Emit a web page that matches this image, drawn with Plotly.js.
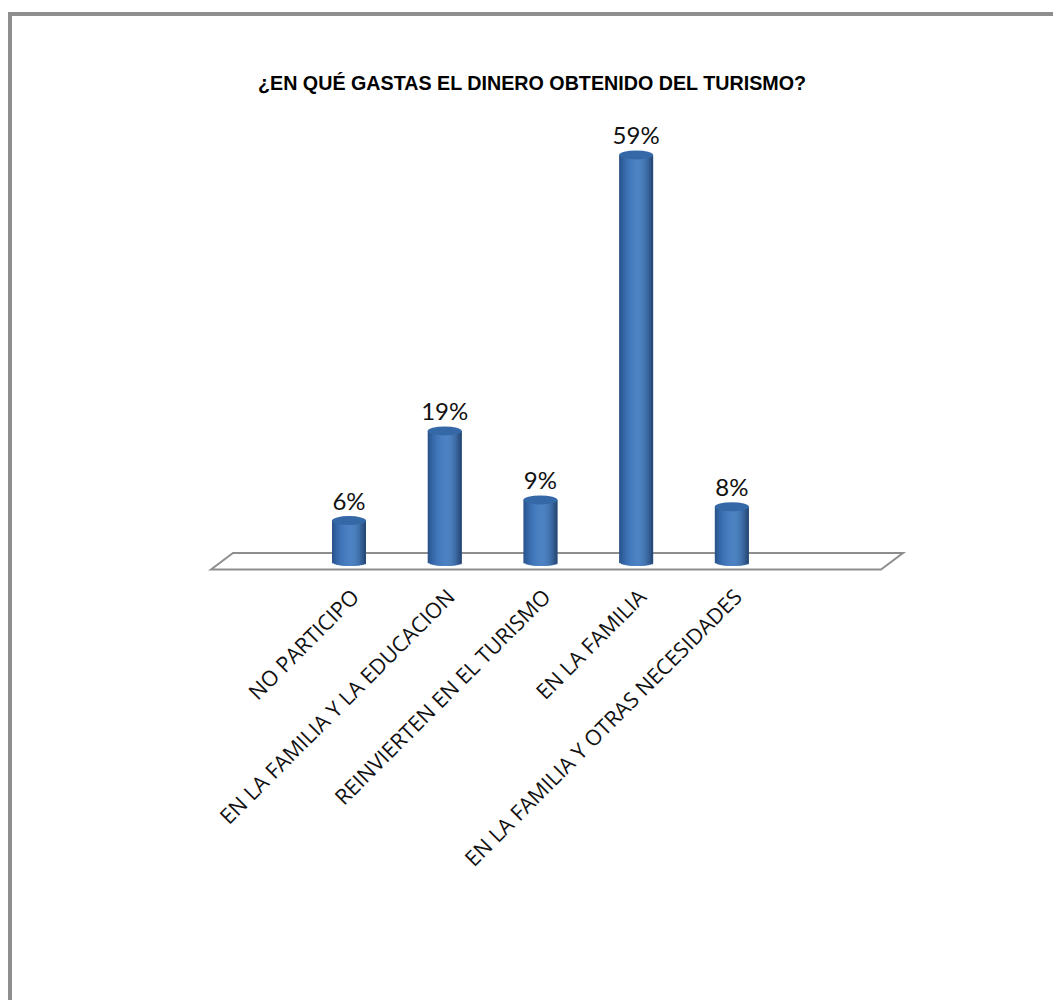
<!DOCTYPE html>
<html><head><meta charset="utf-8">
<script src="https://cdn.plot.ly/plotly-3.0.1.min.js"></script>
<style>html,body{margin:0;padding:0;background:#fff;overflow:hidden}
#frameL{position:absolute;left:8px;top:12px;width:4px;height:988px;background:#8e8e8e}
#frameT{position:absolute;left:8px;top:12px;width:1045px;height:4px;background:#8e8e8e}
#chart{position:absolute;left:0;top:0;width:1053px;height:1000px}</style></head>
<body><div id="chart"></div><div id="frameL"></div><div id="frameT"></div>
<script>
const categories = ["NO PARTICIPO","EN LA FAMILIA Y LA EDUCACION","REINVIERTEN EN EL TURISMO","EN LA FAMILIA","EN LA FAMILIA Y OTRAS NECESIDADES"];
const values = [6,19,9,59,8];
const valueLabels = ["6%","19%","9%","59%","8%"];
const chartTitle = "¿EN QUÉ GASTAS EL DINERO OBTENIDO DEL TURISMO?";
// cylinder shading, left to right
const shades = ["#2b558c","#2f5f9c","#3567a8","#3a6eb0","#3f75b7","#4379bc","#477dbf","#4a80c1","#4c82c2","#4d83c2","#4c81c0","#497dbb","#4577b3","#3f6fa9","#38649b","#30578a","#284a78"];

const W=1053,H=1000,L=221,PW=671,T=110,ZERO=562,PB=576;
const unit=95.7, pxPerVal=6.9;
const barPx=34, rimPx=4;
const px=p=>(p-L)/PW, py=p=>(PB-p)/(PB-T);
const stripW=barPx/unit/shades.length;

const traces=shades.map((c,i)=>{
  const u=((i+0.5)/shades.length)*2-1;
  const drop=rimPx*Math.sqrt(1-u*u)/pxPerVal;
  const last=i===shades.length-1;
  return {type:'bar',x:categories.map((_,k)=>k),y:values.map(v=>v+drop),base:values.map(()=>-drop),
    width:last?stripW:stripW*2,offset:-barPx/unit/2+i*stripW,marker:{color:c,line:{width:0}},
    hoverinfo:'skip',showlegend:false};
});
traces.push({type:'scatter',mode:'text+markers',x:categories.map((_,k)=>k),y:values,text:valueLabels,
  marker:{size:6,opacity:0},
  textposition:'top center',textfont:{family:'Lato, "Open Sans", sans-serif',size:24,color:'#111'},
  showlegend:false,hoverinfo:'skip',cliponaxis:false});

const floorPath=`M${px(211)},${py(569.5)} L${px(233)},${py(553)} L${px(903)},${py(553)} L${px(881)},${py(569.5)} Z`;
const shapes=[{type:'path',xref:'paper',yref:'paper',path:floorPath,line:{color:'#8e8e8e',width:2},fillcolor:'#fff',layer:'below'}];
values.forEach((v,k)=>{
  shapes.push({type:'circle',xref:'x',yref:'y',xsizemode:'pixel',ysizemode:'pixel',
    xanchor:k,yanchor:v,x0:-barPx/2,x1:barPx/2,y0:-4.5,y1:4.5,fillcolor:'#3568a6',line:{width:0},layer:'above'});
});

Plotly.newPlot('chart',traces,{
  width:W,height:H,autosize:false,paper_bgcolor:'rgba(0,0,0,0)',plot_bgcolor:'rgba(0,0,0,0)',
  margin:{l:L,r:W-L-PW,t:T,b:H-PB,pad:0},
  barmode:'overlay',showlegend:false,shapes,
  title:{text:chartTitle,x:532/W,xref:'container',xanchor:'center',y:1-83/H,yref:'container',yanchor:'middle',
    font:{family:'"Liberation Sans", sans-serif',size:19.7,color:'#000',weight:700}},
  xaxis:{type:'linear',range:[-128/unit,(PW-128)/unit],tickmode:'array',tickvals:categories.map((_,k)=>k),ticktext:categories,
    tickangle:-45,tickfont:{family:'"Open Sans", sans-serif',size:21.5,color:'#111'},showgrid:false,zeroline:false,showline:false,ticks:'',
    ticklabelstandoff:3,ticklabelshift:4},
  yaxis:{range:[-(PB-ZERO)/pxPerVal,(ZERO-T)/pxPerVal],visible:false,showgrid:false,zeroline:false}
},{staticPlot:true,displayModeBar:false});
</script></body></html>
